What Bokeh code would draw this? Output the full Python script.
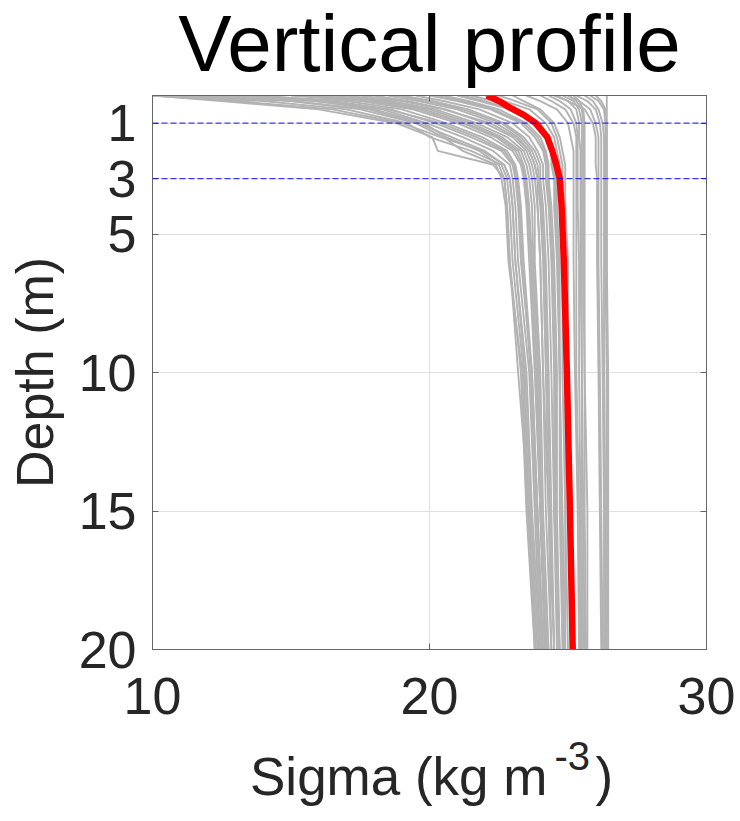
from bokeh.plotting import figure
from bokeh.layouts import column
from bokeh.models import Range1d, LinearAxis, FixedTicker, Label, Span
from bokeh.embed import file_html
from bokeh.resources import INLINE

# ---- data ----
depths = [0, 0.2, 0.5, 1.0, 1.5, 2.0, 2.5, 3.0, 4.0, 6.0, 10, 15, 20]

profiles_a = [
    [10.0, 14.0, 17.0, 19.2, 20.0, 21.5, 22.6, 22.8, 22.9, 23.0, 23.4, 23.6, 23.9],
    [10.0, 12.5, 16.0, 18.8, 20.1, 20.3, 22.3, 22.7, 22.8, 22.9, 23.3, 23.5, 23.8],
    [10.5, 15.0, 17.8, 19.6, 20.8, 22.0, 22.7, 22.9, 23.0, 23.1, 23.5, 23.7, 24.0],
    [11.0, 15.8, 18.3, 19.9, 21.2, 22.3, 22.9, 23.0, 23.1, 23.2, 23.6, 23.8, 24.0],
    [12.0, 16.5, 18.6, 20.2, 21.5, 22.6, 23.0, 23.1, 23.2, 23.3, 23.7, 23.9, 24.1],
    [13.5, 17.0, 19.0, 20.6, 21.9, 22.8, 23.1, 23.2, 23.3, 23.4, 23.7, 23.9, 24.1],
    [15.0, 17.5, 19.4, 21.0, 22.2, 23.0, 23.3, 23.4, 23.5, 23.6, 23.8, 24.0, 24.2],
    [16.0, 18.0, 19.8, 21.3, 22.5, 23.2, 23.4, 23.5, 23.6, 23.7, 23.9, 24.0, 24.2],
    [17.0, 18.6, 20.2, 21.7, 22.8, 23.4, 23.6, 23.7, 23.8, 23.8, 24.0, 24.1, 24.3],
    [18.0, 19.2, 20.6, 22.0, 23.0, 23.5, 23.7, 23.8, 23.9, 24.0, 24.1, 24.2, 24.4],
    [18.5, 19.6, 21.0, 22.4, 23.2, 23.6, 23.8, 23.9, 24.0, 24.1, 24.2, 24.3, 24.5],
    [19.0, 20.1, 21.4, 22.7, 23.4, 23.8, 24.0, 24.0, 24.1, 24.2, 24.3, 24.4, 24.5],
    [19.5, 20.5, 21.8, 23.0, 23.6, 23.9, 24.1, 24.1, 24.2, 24.3, 24.4, 24.5, 24.6],
    [20.0, 21.0, 22.2, 23.3, 23.8, 24.1, 24.2, 24.2, 24.3, 24.4, 24.5, 24.5, 24.7],
    [20.5, 21.4, 22.5, 23.5, 24.0, 24.2, 24.3, 24.3, 24.4, 24.5, 24.6, 24.6, 24.7],
    [21.0, 21.8, 22.9, 23.8, 24.2, 24.4, 24.4, 24.5, 24.5, 24.6, 24.7, 24.7, 24.8],
    [21.5, 22.3, 23.2, 24.0, 24.3, 24.5, 24.5, 24.6, 24.6, 24.7, 24.7, 24.8, 24.9],
    [22.0, 22.7, 23.6, 24.2, 24.5, 24.6, 24.7, 24.7, 24.7, 24.8, 24.8, 24.9, 24.9],
    [22.5, 23.1, 23.9, 24.4, 24.6, 24.7, 24.8, 24.8, 24.8, 24.8, 24.9, 24.9, 25.0],
    [14.0, 16.0, 18.0, 19.8, 20.6, 21.8, 22.5, 22.7, 22.8, 22.9, 23.2, 23.6, 23.8],
    [23.0, 23.4, 24.0, 24.5, 24.7, 24.8, 24.9, 24.9, 24.9, 25.0, 25.0, 25.1, 25.1],
    [17.5, 19.0, 20.5, 22.2, 23.1, 23.6, 23.8, 23.9, 23.9, 24.0, 24.1, 24.3, 24.4],
    [10.0, 13.0, 16.5, 19.0, 20.4, 21.9, 22.7, 22.9, 23.0, 23.1, 23.45, 23.65, 23.95],
    [12.5, 16.2, 18.5, 20.4, 21.7, 22.7, 23.05, 23.15, 23.25, 23.35, 23.65, 23.85, 24.05],
    [15.5, 17.8, 19.6, 21.2, 22.4, 23.1, 23.35, 23.45, 23.55, 23.65, 23.85, 24.0, 24.15],
    [16.5, 18.3, 20.0, 21.5, 22.6, 23.3, 23.5, 23.6, 23.7, 23.75, 23.95, 24.05, 24.25],
    [18.8, 19.9, 21.2, 22.6, 23.3, 23.7, 23.9, 23.95, 24.05, 24.15, 24.25, 24.35, 24.5],
    [20.2, 21.2, 22.3, 23.4, 23.9, 24.15, 24.25, 24.25, 24.35, 24.45, 24.55, 24.55, 24.65],
    [21.2, 22.0, 23.0, 23.9, 24.25, 24.45, 24.45, 24.55, 24.55, 24.65, 24.7, 24.75, 24.85],
    [13.0, 15.0, 17.5, 19.5, 20.5, 21.2, 22.4, 22.6, 22.75, 22.85, 23.35, 23.55, 23.85],
]

profiles_b = [
    [23.5, 24.0, 24.6, 25.0, 25.1, 25.2, 25.2, 25.2, 25.2, 25.2, 25.25, 25.35, 25.4],
    [24.0, 24.4, 24.9, 25.2, 25.3, 25.3, 25.3, 25.3, 25.3, 25.3, 25.3, 25.4, 25.45],
    [24.3, 24.7, 25.1, 25.3, 25.35, 25.35, 25.35, 25.35, 25.35, 25.4, 25.4, 25.45, 25.5],
    [24.6, 25.0, 25.3, 25.4, 25.4, 25.45, 25.45, 25.45, 25.45, 25.45, 25.5, 25.5, 25.55],
    [24.8, 25.2, 25.4, 25.5, 25.5, 25.5, 25.5, 25.5, 25.5, 25.5, 25.5, 25.55, 25.6],
    [25.0, 25.3, 25.5, 25.55, 25.55, 25.55, 25.55, 25.55, 25.55, 25.55, 25.6, 25.6, 25.65],
    [25.2, 25.4, 25.55, 25.6, 25.6, 25.6, 25.6, 25.6, 25.6, 25.6, 25.6, 25.7, 25.7],
]

profiles_c = [
    [24.5, 25.0, 25.6, 25.9, 26.0, 26.0, 26.0, 26.05, 26.05, 26.05, 26.1, 26.15, 26.2],
    [25.0, 25.4, 25.8, 26.0, 26.1, 26.1, 26.1, 26.1, 26.1, 26.1, 26.15, 26.2, 26.25],
    [25.3, 25.7, 26.0, 26.15, 26.2, 26.2, 26.2, 26.2, 26.2, 26.2, 26.25, 26.3, 26.3],
    [25.6, 25.9, 26.1, 26.25, 26.3, 26.3, 26.3, 26.3, 26.3, 26.3, 26.3, 26.35, 26.35],
    [25.8, 26.1, 26.3, 26.35, 26.35, 26.35, 26.35, 26.35, 26.35, 26.35, 26.4, 26.4, 26.4],
    [26.0, 26.2, 26.35, 26.4, 26.4, 26.4, 26.4, 26.4, 26.4, 26.4, 26.45, 26.45, 26.45],
    [26.4, 26.4, 26.4, 26.4, 26.4, 26.4, 26.4, 26.4, 26.4, 26.4, 26.4, 26.4, 26.4],
]

mean_depths = [0, 0.1, 0.25, 0.45, 0.7, 1.0, 1.5, 2.0, 2.5, 3.0, 4.0, 6.0, 10, 15, 20]
mean_sigma = [22.07, 22.3, 22.6, 22.92, 23.4, 23.83, 24.25, 24.43, 24.58, 24.7, 24.77, 24.85, 24.96, 25.07, 25.17]

ref_depths = [1, 3]
x_ticks = [10, 20, 30]
y_ticks = [1, 3, 5, 10, 15, 20]

title_text = "Vertical profile"
ylabel_text = "Depth (m)"
xlabel_main = "Sigma (kg m"
xlabel_sup = "-3"
xlabel_end = ")"

FONT = "Liberation Sans"
TXT = "#262626"
AX = "#666666"
W = 740
LB, RB = 152, 34          # left / right borders shared by all strips
X0, X1 = LB, W - RB       # page-pixel span of the frames


def strip(height):
    f = figure(width=W, height=height, output_backend="svg", toolbar_location=None,
               x_range=Range1d(X0, X1), y_range=Range1d(0, height),
               x_axis_type=None, y_axis_type=None,
               min_border_left=LB, min_border_right=RB, min_border_top=0,
               min_border_bottom=0)
    f.outline_line_color = None
    f.grid.visible = False
    return f


# ---------------- title strip ----------------
TITLE_H = 92
ft = strip(TITLE_H)
ft.add_layout(Label(x=429, y=TITLE_H - 43, text=title_text, text_align="center",
                    text_baseline="alphabetic", text_font=FONT, text_font_size="80px",
                    text_color="black"))

# ---------------- main plot ----------------
TOP_B, FRAME, BOT_B = 3, 554, 86
p = figure(width=W, height=TOP_B + FRAME + BOT_B, output_backend="svg", toolbar_location=None,
           x_range=Range1d(10, 30), y_range=Range1d(20, 0),
           min_border_left=LB, min_border_right=RB, min_border_top=TOP_B,
           min_border_bottom=BOT_B,
           background_fill_color="white", border_fill_color="white")
p.outline_line_color = AX
p.outline_line_width = 1

for ax in (p.xaxis[0], p.yaxis[0]):
    ax.major_label_text_font = FONT
    ax.major_label_text_font_size = "52px"
    ax.major_label_text_color = TXT
    ax.axis_line_color = AX
    ax.major_tick_line_color = AX
    ax.major_tick_in = 6
    ax.major_tick_out = 0
    ax.minor_tick_line_color = None
    ax.axis_label_text_font = FONT
    ax.axis_label_text_font_size = "52px"
    ax.axis_label_text_color = TXT
    ax.axis_label_text_font_style = "normal"

p.xaxis.ticker = FixedTicker(ticks=x_ticks)
p.yaxis.ticker = FixedTicker(ticks=y_ticks)
p.xaxis.major_label_standoff = 28
p.yaxis.major_label_standoff = 16
p.yaxis.axis_label = ylabel_text
p.yaxis.axis_label_standoff = 12

top_ax = LinearAxis(ticker=FixedTicker(ticks=x_ticks), major_label_text_font_size="1px",
                    major_label_text_alpha=0, major_label_standoff=0,
                    axis_line_color=AX, major_tick_line_color=AX,
                    major_tick_in=6, major_tick_out=0, minor_tick_line_color=None)
right_ax = LinearAxis(ticker=FixedTicker(ticks=y_ticks), major_label_text_font_size="1px",
                      major_label_text_alpha=0, major_label_standoff=0,
                      axis_line_color=AX, major_tick_line_color=AX,
                      major_tick_in=6, major_tick_out=0, minor_tick_line_color=None)
p.add_layout(top_ax, "above")
p.add_layout(right_ax, "right")

p.xgrid.ticker = FixedTicker(ticks=x_ticks)
p.ygrid.ticker = FixedTicker(ticks=y_ticks)
p.grid.grid_line_color = "#e0e0e0"
p.grid.grid_line_width = 1

all_profiles = profiles_a + profiles_b + profiles_c
p.multi_line(xs=all_profiles, ys=[depths] * len(all_profiles),
             line_color="#b3b3b3", line_width=1.9)

for d in ref_depths:
    p.add_layout(Span(location=d, dimension="width", line_color="blue", line_alpha=0.75,
                      line_width=1.3, line_dash="6 3"))

p.line(mean_sigma, mean_depths, line_color="red", line_width=6.5, line_cap="butt",
       line_join="round")

# ---------------- x-label strip ----------------
XL_H = 821 - TITLE_H - (TOP_B + FRAME + BOT_B)
fx = strip(XL_H)
fx.add_layout(Label(x=249.5, y=XL_H - 41, text=xlabel_main, text_align="left",
                    text_baseline="alphabetic", text_font=FONT, text_font_size="53px",
                    text_color=TXT))
fx.add_layout(Label(x=554, y=XL_H - 20, text=xlabel_sup, text_align="left",
                    text_baseline="alphabetic", text_font=FONT, text_font_size="40px",
                    text_color=TXT))
fx.add_layout(Label(x=595, y=XL_H - 41, text=xlabel_end, text_align="left",
                    text_baseline="alphabetic", text_font=FONT, text_font_size="53px",
                    text_color=TXT))

layout = column(ft, p, fx, spacing=0)
open("out.html", "w").write(file_html(layout, INLINE))
